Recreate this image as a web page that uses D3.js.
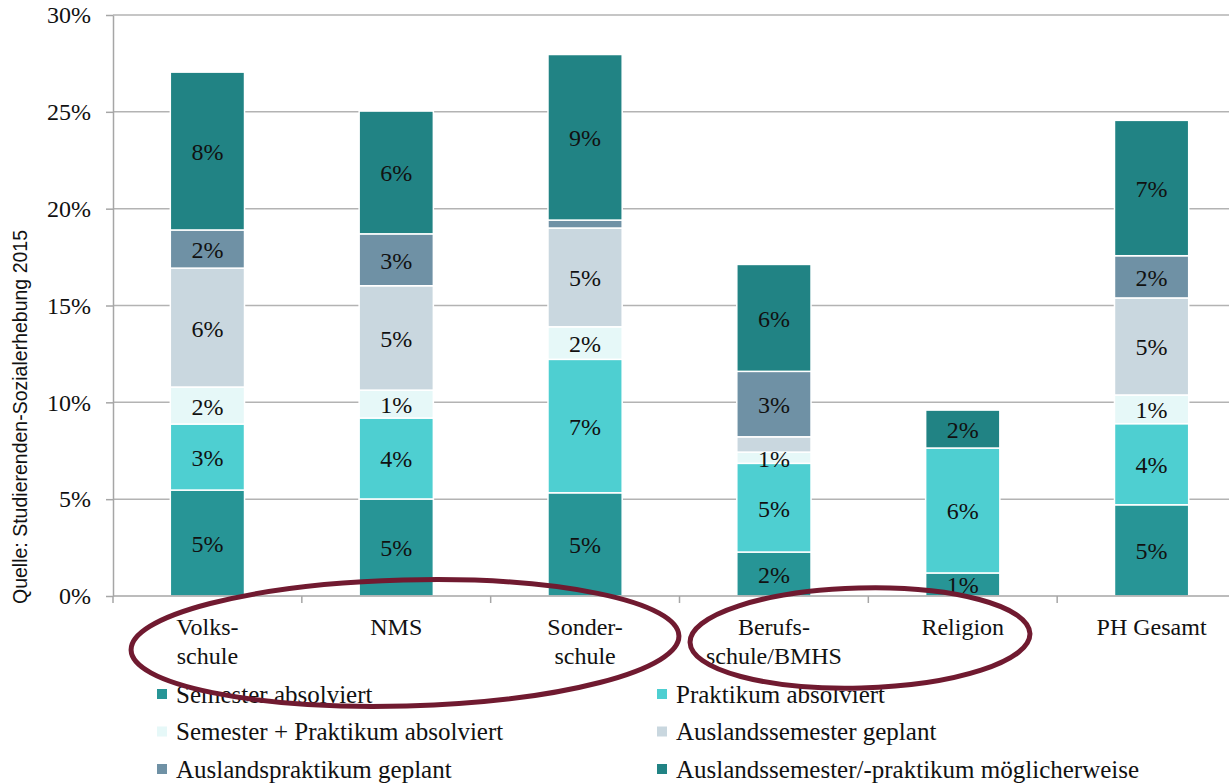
<!DOCTYPE html>
<html><head><meta charset="utf-8">
<script src="https://cdn.jsdelivr.net/npm/d3@7"></script>
<style>html,body{margin:0;padding:0;background:#fff;}svg{display:block;}</style>
</head><body><svg id="c" width="1229" height="783"></svg>
<script>
// ---- data ----
const categories = ["Volks-\nschule", "NMS", "Sonder-\nschule", "Berufs-\nschule/BMHS", "Religion", "PH Gesamt"];
const seriesNames = ["Semester absolviert", "Praktikum absolviert", "Semester + Praktikum absolviert",
  "Auslandssemester geplant", "Auslandspraktikum geplant", "Auslandssemester/-praktikum möglicherweise"];
const semesterAbsolviert      = [5.47, 5.01, 5.33, 2.27, 1.19, 4.71];
const praktikumAbsolviert     = [3.41, 4.18, 6.89, 4.58, 6.45, 4.19];
const semPrakAbsolviert       = [1.91, 1.44, 1.68, 0.58, 0.00, 1.48];
const auslandssemesterGeplant = [6.14, 5.39, 5.10, 0.79, 0.00, 5.01];
const auslandspraktikumGeplant= [1.97, 2.68, 0.41, 3.38, 0.00, 2.18];
const moeglicherweise         = [8.15, 6.34, 8.55, 5.52, 1.96, 6.99];
const yTicks = [0, 5, 10, 15, 20, 25, 30];
const hiddenLabels = [[3, 3]]; // [category index, series index] labels not shown
const axisTitle = "Quelle: Studierenden-Sozialerhebung 2015";

const seriesValues = [semesterAbsolviert, praktikumAbsolviert, semPrakAbsolviert,
  auslandssemesterGeplant, auslandspraktikumGeplant, moeglicherweise];
const colors = ["#279596", "#4ecfd1", "#e6f8f8", "#c9d7df", "#6f91a5", "#218384"];

const svg = d3.select("#c");
const serif = "'Liberation Serif', 'DejaVu Serif', serif";

const y = d3.scaleLinear().domain([0, 30]).range([596, 15]);
const x = d3.scaleBand().domain(categories.map((c, i) => i)).range([113, 1246])
  .paddingInner(0.607).paddingOuter(0.3035);

// gridlines
svg.append("g").selectAll("line").data(yTicks.filter(t => t > 0)).join("line")
  .attr("x1", 113).attr("x2", 1246).attr("y1", d => y(d)).attr("y2", d => y(d))
  .attr("stroke", "#b3b3b3").attr("stroke-width", 1.5);

// y axis
const yAxis = d3.axisLeft(y).tickValues(yTicks).tickFormat(d => d + "%").tickSize(7).tickSizeOuter(0);
const gy = svg.append("g").attr("transform", "translate(113,0)").call(yAxis);
gy.select(".domain").attr("stroke", "#a6a6a6").attr("stroke-width", 1.5);
gy.selectAll(".tick line").attr("stroke", "#a6a6a6").attr("stroke-width", 1.5);
gy.selectAll(".tick text").attr("font-family", serif).attr("font-size", 24).attr("fill", "#111")
  .attr("x", -22).attr("dy", "0.32em");

// stacked data
const table = categories.map((c, i) => {
  const o = { i };
  seriesNames.forEach((s, k) => o[s] = seriesValues[k][i]);
  return o;
});
const stacked = d3.stack().keys(seriesNames)(table);

const gb = svg.append("g");
stacked.forEach((layer, k) => {
  gb.append("g").selectAll("rect").data(layer).join("rect")
    .attr("x", d => x(d.data.i)).attr("width", x.bandwidth())
    .attr("y", d => y(d[1])).attr("height", d => y(d[0]) - y(d[1]))
    .attr("fill", colors[k]).attr("stroke", "#fff").attr("stroke-width", 1.5)
    .style("display", d => d[1] - d[0] > 0 ? null : "none");
});

// x axis
svg.append("line").attr("x1", 113).attr("x2", 1246).attr("y1", y(0)).attr("y2", y(0))
  .attr("stroke", "#a6a6a6").attr("stroke-width", 1.5);
const bounds = d3.range(categories.length + 1).map(i => 113 + i * x.step());
svg.append("g").selectAll("line").data(bounds).join("line")
  .attr("x1", d => d).attr("x2", d => d).attr("y1", y(0)).attr("y2", y(0) + 7)
  .attr("stroke", "#a6a6a6").attr("stroke-width", 1.5);

// category labels
const gl = svg.append("g").attr("font-family", serif).attr("font-size", 24).attr("fill", "#111").attr("text-anchor", "middle");
categories.forEach((c, i) => {
  c.split("\n").forEach((line, j) => {
    gl.append("text").attr("x", x(i) + x.bandwidth() / 2).attr("y", 627 + j * 29)
      .attr("dominant-baseline", "central").text(line);
  });
});

// value labels
const fmt = v => d3.format(".0f")(v) + "%";
const gv = svg.append("g").attr("font-family", serif).attr("font-size", 24).attr("fill", "#111").attr("text-anchor", "middle");
stacked.forEach((layer, k) => {
  layer.forEach((d, i) => {
    const v = d[1] - d[0];
    if (v < 0.5) return;
    if (hiddenLabels.some(h => h[0] === i && h[1] === k)) return;
    gv.append("text").attr("x", x(i) + x.bandwidth() / 2).attr("y", y((d[0] + d[1]) / 2) + 1)
      .attr("dominant-baseline", "central").text(fmt(v));
  });
});

// y title
svg.append("text").attr("transform", "translate(20,417) rotate(-90)")
  .attr("text-anchor", "middle").attr("dominant-baseline", "central")
  .attr("font-family", "'Liberation Sans', Arial, sans-serif").attr("font-size", 19.5).attr("fill", "#111")
  .text(axisTitle);

// legend
const lg = svg.append("g").attr("font-family", serif).attr("font-size", 25).attr("fill", "#111");
seriesNames.forEach((s, k) => {
  const col = k % 2, row = Math.floor(k / 2);
  const lx = 157 + col * 500, ly = 694 + row * 37.5;
  lg.append("rect").attr("x", lx).attr("y", ly - 5).attr("width", 10).attr("height", 10).attr("fill", colors[k]);
  lg.append("text").attr("x", lx + 19).attr("y", ly).attr("dominant-baseline", "central").text(s);
});

// annotation ellipses
const ann = svg.append("g").attr("fill", "none").attr("stroke", "#701a30").attr("stroke-width", 5);
ann.append("ellipse").attr("cx", 405).attr("cy", 643).attr("rx", 274).attr("ry", 63).attr("transform", "rotate(-1.5 405 643)");
ann.append("ellipse").attr("cx", 860).attr("cy", 638).attr("rx", 170).attr("ry", 50).attr("transform", "rotate(-1.5 860 638)");
</script></body></html>
